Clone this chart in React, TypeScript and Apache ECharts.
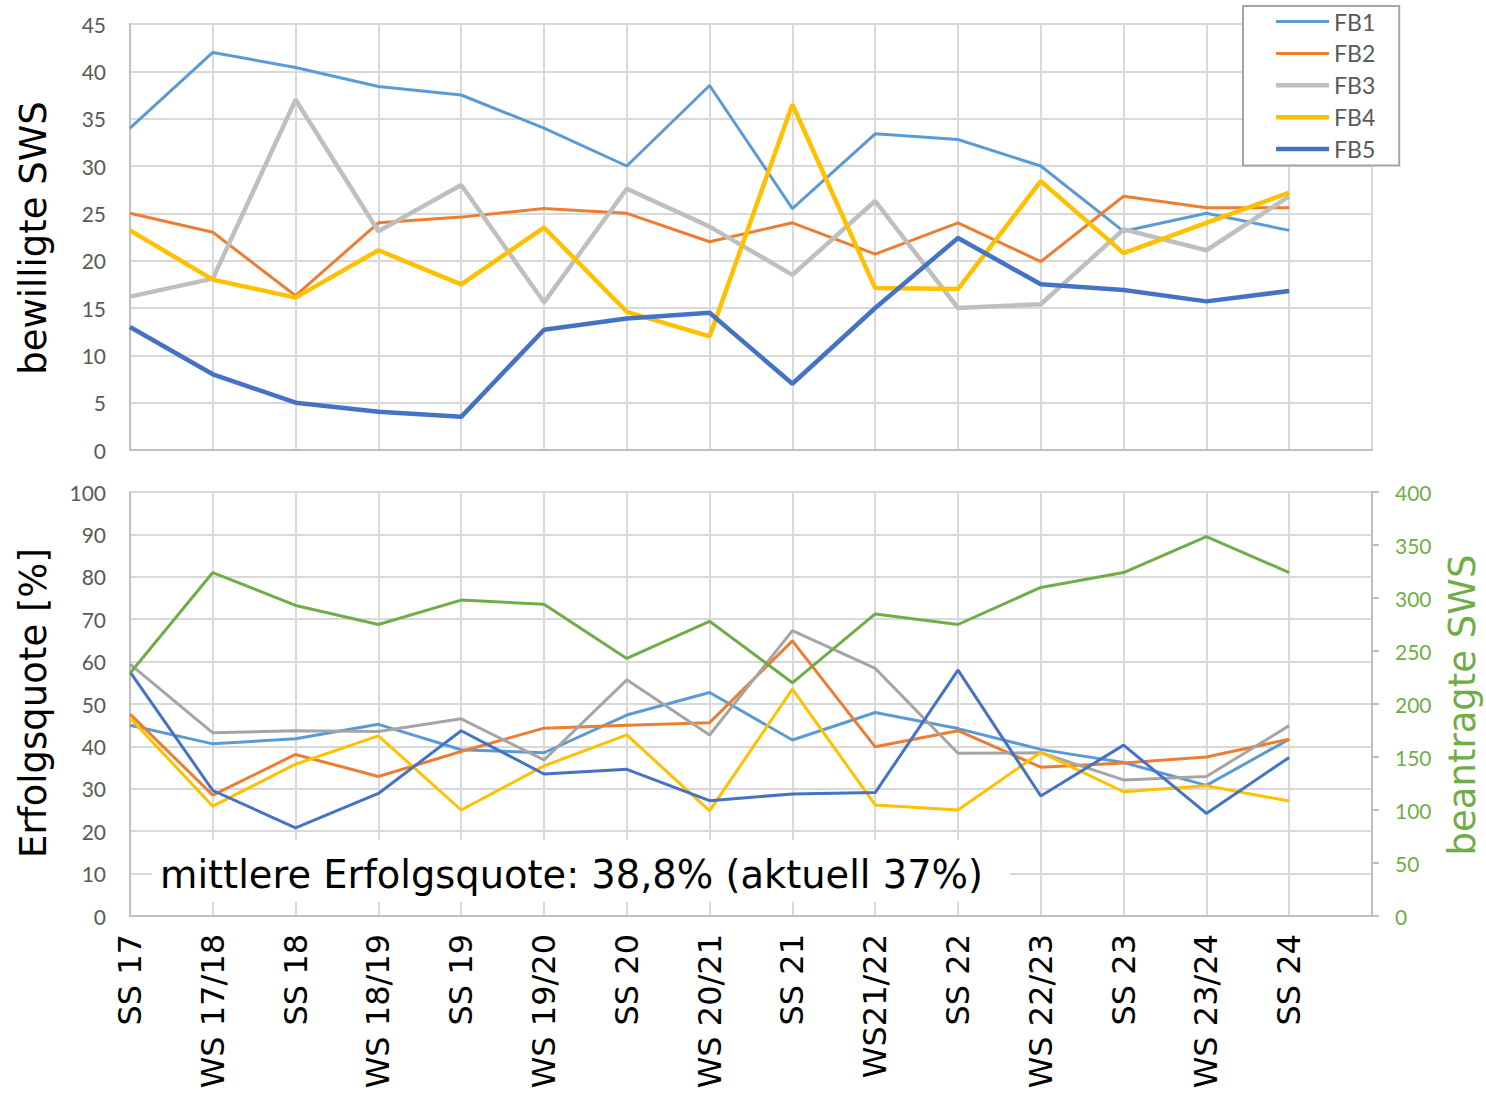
import React, { useEffect, useRef } from "react";
import * as echarts from "echarts";

const categories = ["SS 17", "WS 17/18", "SS 18", "WS 18/19", "SS 19", "WS 19/20", "SS 20", "WS 20/21", "SS 21", "WS21/22", "SS 22", "WS 22/23", "SS 23", "WS 23/24", "SS 24", ""];

const seriesNames = ["FB1", "FB2", "FB3", "FB4", "FB5"];

// bewilligte SWS (upper chart)
const fb1Granted = [34.0, 42.0, 40.4, 38.4, 37.5, 34.0, 30.0, 38.5, 25.5, 33.4, 32.8, 30.0, 23.1, 25.0, 23.2];
const fb2Granted = [25.0, 23.0, 16.3, 24.0, 24.6, 25.5, 25.0, 22.0, 24.0, 20.7, 24.0, 19.9, 26.8, 25.6, 25.6];
const fb3Granted = [16.2, 18.1, 37.0, 23.1, 28.0, 15.6, 27.6, 23.6, 18.5, 26.3, 15.0, 15.4, 23.3, 21.1, 26.8];
const fb4Granted = [23.2, 18.0, 16.1, 21.1, 17.5, 23.5, 14.6, 12.0, 36.5, 17.1, 17.0, 28.4, 20.8, 24.0, 27.2];
const fb5Granted = [13.0, 8.0, 5.0, 4.05, 3.5, 12.7, 13.9, 14.5, 7.0, 15.0, 22.4, 17.5, 16.9, 15.7, 16.8];

// Erfolgsquote [%] (lower chart)
const fb1Rate = [45.0, 40.6, 41.8, 45.2, 39.2, 38.5, 47.4, 52.7, 41.5, 48.0, 44.2, 39.3, 36.2, 30.8, 41.7];
const fb2Rate = [47.6, 28.5, 38.1, 32.9, 38.8, 44.3, 45.0, 45.6, 64.9, 39.9, 43.7, 35.1, 36.1, 37.5, 41.7];
const fb3Rate = [59.4, 43.2, 43.7, 43.5, 46.5, 36.8, 55.7, 42.7, 67.3, 58.4, 38.4, 38.5, 32.1, 32.9, 44.9];
const fb4Rate = [46.7, 25.9, 35.8, 42.5, 25.0, 35.4, 42.7, 24.8, 53.5, 26.2, 25.0, 38.6, 29.3, 30.7, 27.1];
const fb5Rate = [57.6, 29.6, 20.8, 28.9, 43.7, 33.5, 34.6, 27.2, 28.8, 29.1, 58.0, 28.3, 40.3, 24.2, 37.4];

// beantragte SWS (lower chart, right axis)
const requestedSws = [229, 324, 293, 275, 298, 294, 243, 278, 220, 285, 275, 310, 324, 358, 324];

const grantedTicks = { min: 0, max: 45, interval: 5 };
const rateTicks = { min: 0, max: 100, interval: 10 };
const requestedTicks = { min: 0, max: 400, interval: 50 };

const annotation = "mittlere Erfolgsquote: 38,8% (aktuell 37%)";

const colorsTop = ["#5B9BD5", "#ED7D31", "#BFBFBF", "#FFC000", "#4472C4"];
const colorsBottom = ["#5B9BD5", "#ED7D31", "#A5A5A5", "#FFC000", "#4472C4"];
const widthsTop = [3, 3, 4.5, 4.5, 4.5];
const green = "#70AD47";

export default function App() {
  const ref = useRef<HTMLDivElement>(null);
  useEffect(() => {
    if (!ref.current) return;
    const chart = echarts.init(ref.current, undefined, { renderer: "svg" });
    const granted = [fb1Granted, fb2Granted, fb3Granted, fb4Granted, fb5Granted];
    const rates = [fb1Rate, fb2Rate, fb3Rate, fb4Rate, fb5Rate];
    const gridLine = { show: true, lineStyle: { color: "#D9D9D9", width: 2 } };
    const axisLine = { show: true, lineStyle: { color: "#BFBFBF", width: 2 } };
    const tickFont = { fontFamily: "Lato", fontSize: 21, color: "#595959" };
    const series: any[] = [];
    granted.forEach((d, i) => {
      series.push({
        name: seriesNames[i], type: "line", xAxisIndex: 0, yAxisIndex: 0, data: d,
        symbol: "none", lineStyle: { color: colorsTop[i], width: widthsTop[i] }, itemStyle: { color: colorsTop[i] },
      });
    });
    rates.forEach((d, i) => {
      series.push({
        name: seriesNames[i] + " Quote", type: "line", xAxisIndex: 1, yAxisIndex: 1, data: d,
        symbol: "none", lineStyle: { color: colorsBottom[i], width: 3 }, itemStyle: { color: colorsBottom[i] },
      });
    });
    series.push({
      name: "beantragte SWS", type: "line", xAxisIndex: 1, yAxisIndex: 2, data: requestedSws,
      symbol: "none", lineStyle: { color: green, width: 3 }, itemStyle: { color: green },
    });
    const axisName = (text: string, x: number, y: number, color: string) => ({
      type: "text", x, y, rotation: Math.PI / 2, z: 100,
      style: { text, fill: color, fontSize: 37, fontFamily: "DejaVu Sans", align: "center", verticalAlign: "middle", textAlign: "center", textVerticalAlign: "middle" },
    });
    const legendData = seriesNames.map((n, i) => ({
      name: n,
      icon: `path://M0 0h53v${widthsTop[i]}h-53z`,
    }));
    chart.setOption({
      animation: false,
      backgroundColor: "#ffffff",
      grid: [
        { left: 130, top: 24, width: 1242, height: 426 },
        { left: 130, top: 492, width: 1242, height: 424 },
      ],
      legend: {
        data: legendData, orient: "vertical", left: 1243, top: 6,
        padding: [4, 24, 5, 33], itemWidth: 53, itemHeight: 22, itemGap: 8.9, itemTextGap: 5,
        backgroundColor: "#ffffff", borderColor: "#A6A6A6", borderWidth: 2,
        textStyle: { fontFamily: "Lato", fontSize: 23, color: "#595959" },
      },
      xAxis: [
        { gridIndex: 0, type: "category", data: categories, boundaryGap: false, axisLine, axisTick: { show: false }, axisLabel: { show: false }, splitLine: gridLine },
        {
          gridIndex: 1, type: "category", data: categories, boundaryGap: false, axisLine, axisTick: { show: false }, splitLine: gridLine,
          axisLabel: { interval: 0, rotate: 90, margin: 18, fontFamily: "DejaVu Sans", fontSize: 32, color: "#000000" },
        },
      ],
      yAxis: [
        { gridIndex: 0, type: "value", ...grantedTicks, axisLine, axisTick: { show: false }, splitLine: gridLine, axisLabel: { ...tickFont, margin: 24 } },
        { gridIndex: 1, type: "value", ...rateTicks, axisLine, axisTick: { show: false }, splitLine: gridLine, axisLabel: { ...tickFont, margin: 24 } },
        {
          gridIndex: 1, type: "value", position: "right", ...requestedTicks, axisLine, splitLine: { show: false },
          axisTick: { show: true, length: 7, lineStyle: { color: "#BFBFBF", width: 2 } },
          axisLabel: { ...tickFont, color: green, margin: 23 },
        },
      ],
      series,
      graphic: [
        { type: "rect", z: 100, shape: { x: 152, y: 840, width: 858, height: 62 }, style: { fill: "#ffffff" } },
        {
          type: "text", x: 160, y: 874, z: 101,
          style: { text: annotation, fill: "#000000", fontSize: 38.4, fontFamily: "DejaVu Sans", align: "left", verticalAlign: "middle", textAlign: "left", textVerticalAlign: "middle" },
        },
        axisName("bewilligte SWS", 33, 238, "#000000"),
        axisName("Erfolgsquote [%]", 33, 703, "#000000"),
        axisName("beantragte SWS", 1462, 705, green),
      ],
    });
    return () => chart.dispose();
  }, []);
  return <div ref={ref} style={{ position: "fixed", left: 0, top: 0, width: 1486, height: 1097 }} />;
}
